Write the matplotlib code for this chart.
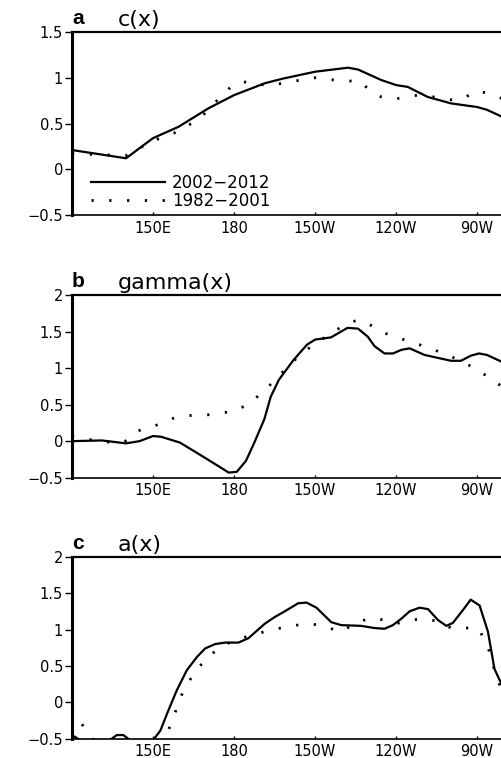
import matplotlib
matplotlib.use("Agg")
import matplotlib.pyplot as plt

plt.rcParams['font.family'] = ['DejaVu Sans']

xticks = [150, 180, 210, 240, 270]
xticklabels = ['150E', '180', '150W', '120W', '90W']

# Panel a: c(x)
a_solid_lon = [120, 140, 150, 159.5, 170.5, 180, 191.4, 198, 210, 222.2, 225.9, 234.5, 240, 244.3, 251.7, 260.3, 270, 273.6, 279.5]
a_solid_val = [0.21, 0.12, 0.34, 0.465, 0.666, 0.81, 0.94, 0.99, 1.066, 1.11, 1.09, 0.975, 0.92, 0.90, 0.79, 0.72, 0.68, 0.65, 0.57]
a_dot_lon = [120, 140, 150, 160, 168, 174, 178.8, 182.5, 188.7, 192.4, 201, 210, 217, 227, 229.5, 234.5, 240, 248, 254, 260, 264, 270, 273.6, 279.5]
a_dot_val = [0.17, 0.15, 0.31, 0.42, 0.575, 0.76, 0.90, 0.957, 0.94, 0.91, 0.957, 1.0, 0.975, 0.957, 0.88, 0.79, 0.77, 0.81, 0.79, 0.76, 0.76, 0.86, 0.83, 0.77]

# Panel b: gamma(x)
b_solid_lon = [120, 131, 140, 145, 150, 153, 160, 168, 175, 178, 181, 184.4, 187.5, 191.2, 193.6, 196.6, 202, 207, 210, 215.9, 222, 225.9, 229.5, 232, 235.7, 238.8, 242, 245, 250.5, 255.4, 260.3, 264, 267.7, 270.7, 273.6, 279.5]
b_solid_val = [0.0, 0.01, -0.03, 0.0, 0.07, 0.06, -0.02, -0.2, -0.36, -0.43, -0.42, -0.27, -0.02, 0.3, 0.61, 0.84, 1.11, 1.32, 1.39, 1.42, 1.55, 1.54, 1.43, 1.3, 1.2, 1.2, 1.25, 1.27, 1.18, 1.14, 1.1, 1.1, 1.17, 1.2, 1.18, 1.08]
b_dot_lon = [120, 127, 134.7, 139.4, 144.3, 150, 158, 163, 170.3, 180, 185, 191, 197, 203.3, 210, 214.6, 220.8, 225.9, 229.5, 235.7, 240, 245.6, 254, 260.3, 266.4, 270, 274.8, 279.5]
b_dot_val = [0.07, 0.02, -0.02, -0.01, 0.14, 0.2, 0.32, 0.35, 0.36, 0.41, 0.5, 0.68, 0.91, 1.14, 1.34, 1.44, 1.59, 1.66, 1.61, 1.48, 1.42, 1.36, 1.25, 1.16, 1.05, 0.98, 0.86, 0.74]

# Panel c: a(x)
c_solid_lon = [120, 123, 129, 134.7, 136.6, 139, 141.5, 145.4, 150, 152.7, 155.7, 158.8, 162.5, 166.2, 169.3, 173, 176.7, 181.6, 185.3, 191.4, 195, 198.8, 203.7, 206.8, 210.5, 216, 219.7, 227, 232, 235.7, 238.8, 242, 245, 248.7, 251.8, 255.5, 258.6, 261, 264.8, 267.6, 270.9, 274, 276.4, 279.5]
c_solid_val = [-0.45, -0.52, -0.6, -0.5, -0.45, -0.45, -0.52, -0.64, -0.52, -0.39, -0.11, 0.165, 0.44, 0.62, 0.74, 0.8, 0.82, 0.82, 0.88, 1.08, 1.17, 1.25, 1.36, 1.37, 1.3, 1.1, 1.06, 1.05, 1.02, 1.01, 1.06, 1.15, 1.25, 1.3, 1.28, 1.13, 1.05, 1.09, 1.27, 1.41, 1.33, 0.97, 0.46, 0.21]
c_dot_lon = [120, 123, 125.5, 127.5, 133, 140, 147, 154.5, 158, 161, 165.5, 170.3, 175, 180, 186.3, 192.4, 199.7, 207, 212, 216.9, 220, 224.4, 230.6, 235.6, 240, 245.6, 250.5, 256.8, 260.3, 266.4, 270.6, 274, 276.8, 279.5]
c_dot_val = [-0.1, -0.27, -0.39, -0.5, -0.62, -0.68, -0.64, -0.5, -0.16, 0.14, 0.42, 0.62, 0.76, 0.85, 0.92, 0.98, 1.04, 1.08, 1.06, 1.0, 0.97, 1.08, 1.16, 1.13, 1.08, 1.13, 1.15, 1.1, 1.02, 1.02, 1.01, 0.76, 0.39, 0.12]

panels = [
    ('a', 'c(x)', a_solid_lon, a_solid_val, a_dot_lon, a_dot_val, (-0.5, 1.5), [-0.5, 0, 0.5, 1, 1.5]),
    ('b', 'gamma(x)', b_solid_lon, b_solid_val, b_dot_lon, b_dot_val, (-0.5, 2), [-0.5, 0, 0.5, 1, 1.5, 2]),
    ('c', 'a(x)', c_solid_lon, c_solid_val, c_dot_lon, c_dot_val, (-0.5, 2), [-0.5, 0, 0.5, 1, 1.5, 2]),
]
ytick_fmt = {-0.5: '\u22120.5', 0: '0', 0.5: '0.5', 1: '1', 1.5: '1.5', 2: '2'}

W, H = 502, 758
fig = plt.figure(figsize=(W / 100, H / 100), dpi=100)
boxes = [(32, 215), (295, 477.7), (556.7, 738.7)]
left = 72

for (lab, title, sx, sy, dx, dy, ylim, yt), (top, bot) in zip(panels, boxes):
    ax = fig.add_axes([left / W, 1 - bot / H, 1 - left / W, (bot - top) / H])
    l1, = ax.plot(sx, sy, color='black', lw=1.6, solid_joinstyle='round', label='2002\u22122012')
    l2, = ax.plot(dx, dy, color='black', lw=2.0, linestyle=(0, (0.8, 5.6)), dash_capstyle='butt', label='1982\u22122001')
    ax.set_xlim(120, 279.2)
    ax.set_ylim(*ylim)
    ax.set_xticks(xticks)
    ax.set_xticklabels(xticklabels)
    ax.set_yticks(yt)
    ax.set_yticklabels([ytick_fmt[v] for v in yt])
    ax.tick_params(axis='x', direction='in', length=2.5, width=1, pad=4, labelsize=10.5)
    ax.tick_params(axis='y', direction='out', length=5, width=1, pad=1.5, labelsize=10.5)
    ax.spines['right'].set_visible(False)
    ax.spines['left'].set_linewidth(2.2)
    ax.spines['top'].set_linewidth(1.6)
    ax.spines['bottom'].set_linewidth(1.2)
    ax.text(0.0, 1.02, lab, transform=ax.transAxes, fontsize=15, fontweight='bold',
            family='Liberation Sans', ha='left', va='bottom')
    ax.text(0.107, 1.012, title, transform=ax.transAxes, fontsize=16, ha='left', va='bottom')
    if lab == 'a':
        ax.legend(handles=[l1, l2], loc='upper left', bbox_to_anchor=(0.045, 0.225),
                  frameon=False, fontsize=12, handlelength=4.4, handletextpad=0.45,
                  labelspacing=0.0, borderaxespad=0, borderpad=0)

fig.savefig('out.png', dpi=100)
